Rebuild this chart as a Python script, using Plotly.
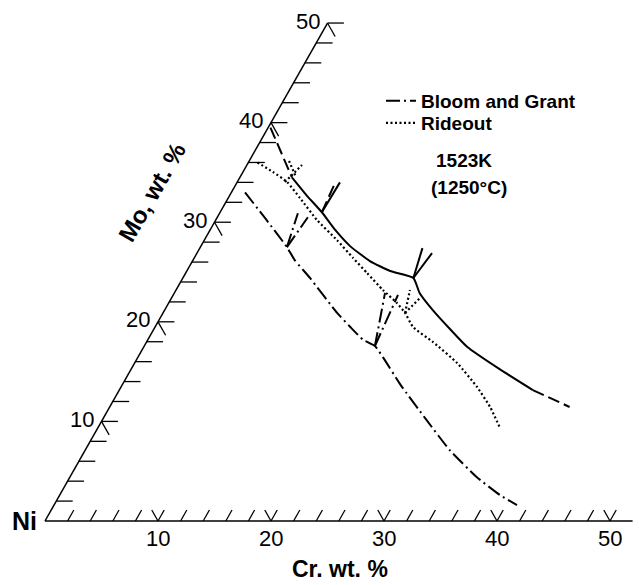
import math
import plotly.graph_objects as go

# ---------------- data: compositions in wt.% (Cr, Mo), Ni = balance ----------------
# solid boundary (with dashed extrapolated ends)
solid_cr = [4.6, 6.8, 9.0, 11.1, 13.2, 15.7, 18.0, 20.4, 21.7, 23.7, 26.3, 28.6, 32.7, 36.6]
solid_mo = [34.5, 32.7, 31.0, 29.2, 27.6, 26.1, 25.1, 24.4, 22.9, 21.2, 19.2, 17.5, 15.2, 13.15]
solid_ext_upper_cr = [0.2, 1.55, 4.6]
solid_ext_upper_mo = [39.5, 37.95, 34.5]
solid_ext_lower_cr = [36.6, 40.7]
solid_ext_lower_mo = [13.15, 11.45]
solid_tie_cr = [[9.0, 9.1], [20.4, 20.8], [20.4, 19.7]]
solid_tie_mo = [[31.0, 34.0], [24.4, 26.9], [24.4, 27.4]]
solid_tie_dash_cr = [[9.0, 8.7]]
solid_tie_dash_mo = [[31.0, 33.9]]

# Bloom and Grant
bg_cr = [1.2, 4.4, 7.66, 9.0, 11.25, 15.4, 17.25, 19.05, 20.41, 21.73, 24.6, 28.74, 32.28, 36.02, 38.97, 40.97]
bg_mo = [33.0, 30.3, 27.5, 26.2, 24.4, 20.9, 19.5, 18.2, 17.57, 16.4, 13.7, 10.1, 7.1, 4.4, 2.6, 1.6]
bg_tie_cr = [[7.66, 6.93], [7.66, 8.01], [20.41, 18.64], [20.41, 19.89]]
bg_tie_mo = [[27.5, 30.9], [27.5, 30.5], [17.57, 22.9], [17.57, 22.7]]

# Rideout
rd_cr = [0.8, 2.66, 4.4, 6.35, 8.96, 11.73, 14.06, 16.05, 18.31, 20.2, 21.42, 22.83, 25.35, 28.53, 31.5, 33.66, 35.6]
rd_mo = [36.0, 35.04, 34.04, 32.43, 30.22, 28.21, 26.41, 24.9, 23.19, 21.89, 20.89, 19.48, 17.97, 15.87, 13.46, 11.45, 9.34]
rd_tie_cr = [[4.22, 4.87], [3.52, 4.94], [21.42, 20.7], [21.42, 21.99]]
rd_tie_mo = [[34.04, 35.75], [36.15, 34.54], [20.89, 23.19], [20.89, 22.39]]

# axes
cr_ticks = list(range(2, 51, 2))
mo_ticks = list(range(2, 51, 2))
cr_labels = [10, 20, 30, 40, 50]
mo_labels = [10, 20, 30, 40, 50]
axis_max_cr = 52
axis_max_mo = 50

# ---------------- ternary transform ----------------
S3 = math.sqrt(3) / 2


def tx(cr, mo):
    return cr + mo / 2


def ty(mo):
    return mo * S3


def curve(crs, mos):
    return [tx(c, m) for c, m in zip(crs, mos)], [ty(m) for m in mos]


def segs(cr_list, mo_list):
    xs, ys = [], []
    for crs, mos in zip(cr_list, mo_list):
        x, y = curve(crs, mos)
        xs += x + [None]
        ys += y + [None]
    return xs, ys


FONT = "Liberation Sans, Arial, Helvetica, sans-serif"
fig = go.Figure()

# axis lines
ax_x, ax_y = segs([[0, axis_max_cr], [0, 0]], [[0, 0], [0, axis_max_mo]])
fig.add_trace(go.Scatter(x=ax_x, y=ax_y, mode="lines", line=dict(color="black", width=1.5),
                         showlegend=False, hoverinfo="skip"))

# ticks
L_H, L_D, B_D = 1.45, 1.35, 1.1
tk_cr, tk_mo = [], []
for m in mo_ticks:
    tk_cr.append([0, L_H]); tk_mo.append([m, m])
    if m in mo_labels:
        tk_cr.append([0, L_D]); tk_mo.append([m, m - L_D])
for c in cr_ticks:
    tk_cr.append([c, c]); tk_mo.append([0, B_D])
    if c in cr_labels:
        tk_cr.append([c, c - B_D]); tk_mo.append([0, B_D])
tkx, tky = segs(tk_cr, tk_mo)
fig.add_trace(go.Scatter(x=tkx, y=tky, mode="lines", line=dict(color="black", width=1.3),
                         showlegend=False, hoverinfo="skip"))

# Bloom and Grant
bx, by = curve(bg_cr, bg_mo)
btx, bty = segs(bg_tie_cr, bg_tie_mo)
fig.add_trace(go.Scatter(x=bx + [None] + btx, y=by + [None] + bty, mode="lines",
                         name="<b>Bloom and Grant</b>", legend="legend",
                         line=dict(color="black", width=2, dash="14px,4px,2px,4px",
                                   shape="spline", smoothing=0.5),
                         hoverinfo="skip"))
# Rideout
rx, ry = curve(rd_cr, rd_mo)
rtx, rty = segs(rd_tie_cr, rd_tie_mo)
fig.add_trace(go.Scatter(x=rx + [None] + rtx, y=ry + [None] + rty, mode="lines",
                         name="<b>Rideout</b>", legend="legend2",
                         line=dict(color="black", width=2.2, dash="2px,2.5px",
                                   shape="spline", smoothing=0.5),
                         hoverinfo="skip"))
# solid boundary
sx, sy = curve(solid_cr, solid_mo)
stx, sty = segs(solid_tie_cr, solid_tie_mo)
fig.add_trace(go.Scatter(x=sx + [None] + stx, y=sy + [None] + sty, mode="lines",
                         line=dict(color="black", width=2, shape="spline", smoothing=0.5),
                         showlegend=False, hoverinfo="skip"))
dx, dy = segs([solid_ext_upper_cr, solid_ext_lower_cr] + solid_tie_dash_cr,
              [solid_ext_upper_mo, solid_ext_lower_mo] + solid_tie_dash_mo)
fig.add_trace(go.Scatter(x=dx, y=dy, mode="lines",
                         line=dict(color="black", width=2, dash="12px,5px"),
                         showlegend=False, hoverinfo="skip"))

ann = []
for v in cr_labels:
    ann.append(dict(x=tx(v, 0), y=ty(0), text=str(v), showarrow=False, xanchor="center",
                    yanchor="middle", yshift=-17, font=dict(size=22, family=FONT, color="black")))
for v in mo_labels:
    ann.append(dict(x=tx(0, v), y=ty(v), text=str(v), showarrow=False, xanchor="right",
                    yanchor="middle", xshift=-6, yshift=2, font=dict(size=22, family=FONT, color="black")))
ann.append(dict(x=tx(0, 0), y=ty(0), text="<b>Ni</b>", showarrow=False, xanchor="right",
                yanchor="middle", xshift=-6, yshift=0, font=dict(size=25, family=FONT, color="black")))
ann.append(dict(x=340 / 639, y=1 - 584 / 585, xref="paper", yref="paper", text="<b>Cr. wt. %</b>",
                showarrow=False, xanchor="center", yanchor="bottom",
                font=dict(size=23, family=FONT, color="black")))
ann.append(dict(x=152 / 639, y=1 - 193 / 585, xref="paper", yref="paper", text="<b>Mo, wt. %</b>",
                showarrow=False, xanchor="center", yanchor="middle", textangle=-60,
                font=dict(size=24, family=FONT, color="black")))
ann.append(dict(x=464 / 639, y=1 - 160 / 585, xref="paper", yref="paper", text="<b>1523K</b>",
                showarrow=False, xanchor="center", yanchor="middle",
                font=dict(size=19, family=FONT, color="black")))
ann.append(dict(x=469 / 639, y=1 - 188 / 585, xref="paper", yref="paper", text="<b>(1250°C)</b>",
                showarrow=False, xanchor="center", yanchor="middle",
                font=dict(size=19, family=FONT, color="black")))

leg_common = dict(xanchor="left", yanchor="middle", bgcolor="rgba(0,0,0,0)",
                  font=dict(size=19, family=FONT, color="black"))
fig.update_layout(
    width=639, height=585,
    margin=dict(l=0, r=0, t=0, b=0),
    paper_bgcolor="white", plot_bgcolor="white",
    xaxis=dict(range=[-45 / 11.3, (639 - 45) / 11.3], visible=False, fixedrange=True),
    yaxis=dict(range=[(521 - 585) / 11.5, 521 / 11.5], visible=False, fixedrange=True),
    annotations=ann,
    showlegend=True,
    legend=dict(x=381 / 639, y=1 - 101 / 585, **leg_common),
    legend2=dict(x=381 / 639, y=1 - 123 / 585, **leg_common),
)

fig.write_html("out.html", config={"displayModeBar": False, "staticPlot": True},
               post_script="document.body.style.margin='0';document.body.style.overflow='hidden';")
